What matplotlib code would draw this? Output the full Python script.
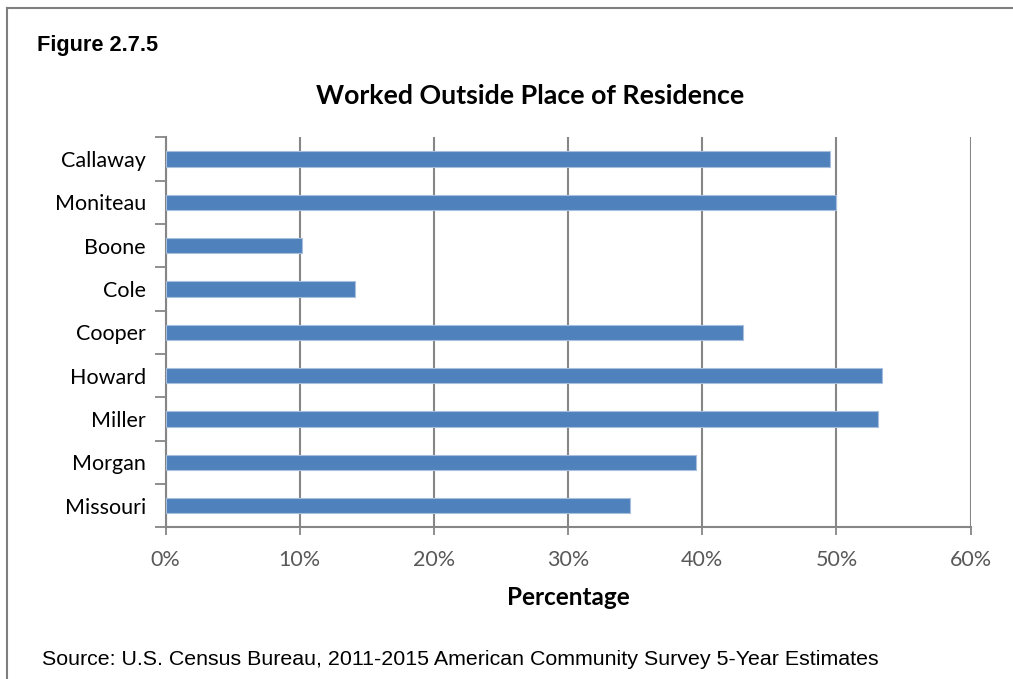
import matplotlib
matplotlib.use("Agg")
import matplotlib.pyplot as plt
from matplotlib.lines import Line2D
from matplotlib.ticker import FixedLocator, PercentFormatter

categories = ["Callaway", "Moniteau", "Boone", "Cole", "Cooper",
              "Howard", "Miller", "Morgan", "Missouri"]
values = [49.5, 50.0, 10.2, 14.1, 43.0, 53.4, 53.1, 39.5, 34.6]
x_ticks = [0, 10, 20, 30, 40, 50, 60]

BAR = "#4f81bd"
GRID = "#868686"
TICKTXT = "#595959"
BODY = ["Lato", "DejaVu Sans"]
ARIAL = ["Liberation Sans", "DejaVu Sans"]

fig = plt.figure(figsize=(10.13, 6.79), dpi=100)
ax = fig.add_axes([0.1634, 0.2234, 0.7948, 0.5744])

n = len(categories)
pos = list(range(n))
ax.barh(pos, values, height=0.35, color=BAR, edgecolor="#a7bfdc",
        linewidth=0.8, zorder=3)
ax.set_ylim(n - 0.5, -0.5)
ax.set_xlim(0, 60)

ax.xaxis.set_major_locator(FixedLocator(x_ticks))
ax.xaxis.set_major_formatter(PercentFormatter(decimals=0))
ax.grid(axis="x", color=GRID, linewidth=1.5, zorder=1)
ax.set_axisbelow(True)

ax.set_yticks(pos)
ax.set_yticklabels(categories, fontsize=15.5, family=BODY, color="#000000")
ax.tick_params(axis="y", which="major", length=0, pad=14)
ax.set_yticks([i - 0.5 for i in range(n + 1)], minor=True)
ax.tick_params(axis="y", which="minor", length=8, width=1.3, color=GRID)
ax.tick_params(axis="x", length=6, width=1.3, color=GRID,
               labelcolor=TICKTXT, labelsize=15.5, pad=10)
for lbl in ax.get_xticklabels():
    lbl.set_family(BODY)

for side in ("top", "right"):
    ax.spines[side].set_visible(False)
for side in ("left", "bottom"):
    ax.spines[side].set_color(GRID)
    ax.spines[side].set_linewidth(1.5)

ax.set_xlabel("Percentage", fontsize=17.5, fontweight="bold", family=BODY,
              labelpad=12)

fig.text(0.5235, 0.859, "Worked Outside Place of Residence", ha="center",
         va="center", fontsize=19.3, fontweight="bold", family=BODY)
fig.text(0.0365, 0.933, "Figure 2.7.5", ha="left", va="center",
         fontsize=15.7, fontweight="bold", family=ARIAL)
fig.text(0.0415, 0.028, "Source: U.S. Census Bureau, 2011-2015 American "
         "Community Survey 5-Year Estimates", ha="left", va="center",
         fontsize=15.4, family=ARIAL)

# frame lines along the top and left edges of the page
fig.add_artist(Line2D([0.0069, 1.0], [0.988, 0.988], color="#7f7f7f",
                      linewidth=1.5, transform=fig.transFigure))
fig.add_artist(Line2D([0.0069, 0.0069], [0.0, 0.988], color="#7f7f7f",
                      linewidth=1.5, transform=fig.transFigure))

fig.savefig("out.png", dpi=100, facecolor="white")
